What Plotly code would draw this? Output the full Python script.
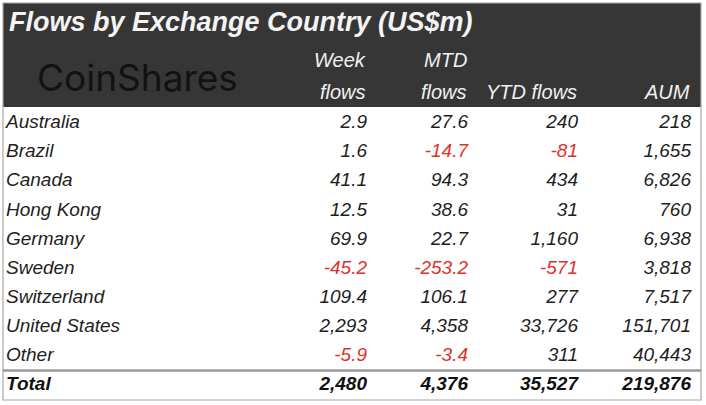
import plotly.graph_objects as go

# data
countries = ['Australia', 'Brazil', 'Canada', 'Hong Kong', 'Germany', 'Sweden',
             'Switzerland', 'United States', 'Other']
week_flows = [2.9, 1.6, 41.1, 12.5, 69.9, -45.2, 109.4, 2293, -5.9]
mtd_flows = [27.6, -14.7, 94.3, 38.6, 22.7, -253.2, 106.1, 4358, -3.4]
ytd_flows = [240, -81, 434, 31, 1160, -571, 277, 33726, 311]
aum = [218, 1655, 6826, 760, 6938, 3818, 7517, 151701, 40443]
totals = [2480, 4376, 35527, 219876]

title = 'Flows by Exchange Country (US$m)'
col_heads = [('Week', 'flows'), ('MTD', 'flows'), ('', 'YTD flows'), ('', 'AUM')]

W, H = 706, 405
DARK = '#363636'
RED = '#e0312b'
INK = '#1e1e1e'
FONT = 'Liberation Sans'

col_right = [367, 468, 578, 691]
row0, row_h = 123.5, 29.1


def fmt(v):
    if isinstance(v, float) and abs(v) < 1000:
        return f'{v:,.1f}'
    return f'{v:,.0f}'


n = len(countries)
row_y = [row0 + i * row_h for i in range(n)]
total_y = row0 + n * row_h

fig = go.Figure()

# country names
fig.add_trace(go.Scatter(
    x=[6] * n, y=row_y, mode='text', text=countries,
    textposition='middle right',
    textfont=dict(family=FONT, size=19, color=INK, style='italic'),
    hoverinfo='skip'))

for j, col in enumerate([week_flows, mtd_flows, ytd_flows, aum]):
    fig.add_trace(go.Scatter(
        x=[col_right[j]] * n, y=row_y, mode='text',
        text=[fmt(v) for v in col],
        textposition='middle left',
        textfont=dict(family=FONT, size=19, style='italic',
                      color=[RED if v < 0 else INK for v in col]),
        hoverinfo='skip'))

# total row
fig.add_trace(go.Scatter(
    x=[6], y=[total_y], mode='text', text=['Total'],
    textposition='middle right',
    textfont=dict(family=FONT, size=19, color='#111', style='italic', weight='bold'),
    hoverinfo='skip'))
fig.add_trace(go.Scatter(
    x=col_right, y=[total_y] * len(totals), mode='text',
    text=[fmt(v) for v in totals], textposition='middle left',
    textfont=dict(family=FONT, size=19, color='#111', style='italic', weight='bold'),
    hoverinfo='skip'))

shapes = [
    dict(type='rect', x0=3, x1=701, y0=3, y1=107, fillcolor=DARK,
         line=dict(width=0), layer='below'),
    dict(type='rect', x0=3, x1=701, y0=3, y1=400, fillcolor='rgba(0,0,0,0)',
         line=dict(color='#a8a8a8', width=1.2)),
    dict(type='line', x0=3, x1=701, y0=370.5, y1=370.5,
         line=dict(color='#9a9a9a', width=2.5)),
]

annotations = [
    dict(x=7, y=22, text=f'<b><i>{title}</i></b>', showarrow=False,
         xanchor='left', yanchor='middle',
         font=dict(family=FONT, size=27, color='#f4f4f4')),
    dict(x=35, y=77, text='CoinShares', showarrow=False, xanchor='left',
         yanchor='middle', font=dict(family='Inter', size=37, color='#121212')),
]
for j, (l1, l2) in enumerate(col_heads):
    for txt, yy in [(l1, 60), (l2, 92)]:
        if txt:
            annotations.append(dict(
                x=col_right[j] + 1, y=yy, text=f'<i>{txt}</i>', showarrow=False,
                xanchor='right', yanchor='middle',
                font=dict(family=FONT, size=20, color='#f0f0f0')))

fig.update_layout(
    width=W, height=H,
    margin=dict(l=0, r=0, t=0, b=0),
    paper_bgcolor='white', plot_bgcolor='white',
    showlegend=False,
    xaxis=dict(range=[0, W], visible=False, fixedrange=True),
    yaxis=dict(range=[H, 0], visible=False, fixedrange=True),
    shapes=shapes, annotations=annotations,
)

# page body has a default 8px margin; drop it so the table sits at the window edge
fig.write_html('out.html', config={'displayModeBar': False},
               post_script="document.body.style.margin='0';")
